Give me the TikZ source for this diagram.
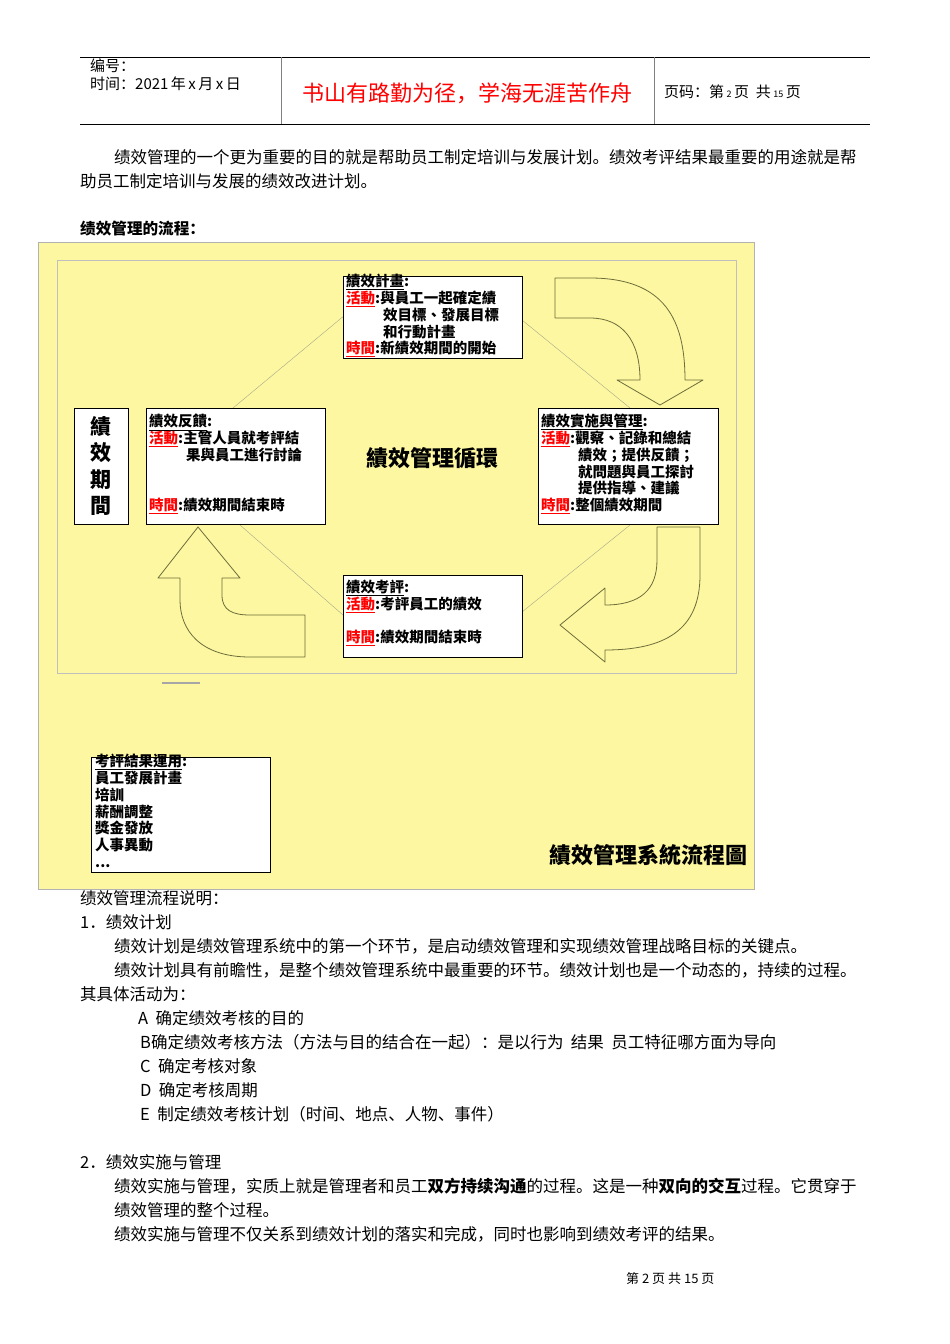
\documentclass[tikz,border=0pt]{standalone}
\usepackage{fontspec}
\setmainfont{Liberation Serif}
\newfontfamily\scfont{Noto Sans CJK SC}
\newfontfamily\tcfont{Noto Sans CJK TC}
\newcommand{\rd}[1]{\textcolor{red}{\underline{#1}}}
\newcommand{\ind}{\hspace*{2.55em}}
\definecolor{ylw}{RGB}{252,247,160}
\definecolor{arr}{RGB}{110,110,60}
\begin{document}
\begin{tikzpicture}[x=1pt,y=-1pt,
  box/.style={draw=black,fill=white,line width=0.8pt},
  bt/.style={font=\tcfont\bfseries\fontsize{14.5}{16.8}\selectfont,align=left,anchor=north west,inner sep=0pt},
  body/.style={font=\scfont\fontsize{16.5}{18}\selectfont,anchor=west,inner sep=0pt},
  blk/.style={draw=arr,fill=ylw,line width=0.8pt,line join=round}]
\useasboundingbox (0,0) rectangle (950,1344);
\fill[white] (0,0) rectangle (950,1344);
% header
\draw[line width=0.8pt] (80,57) -- (870,57) (80,124) -- (870,124);
\draw[gray] (281,57) -- (281,124) (654,57) -- (654,124);
\node[body,font=\scfont\fontsize{15}{16}\selectfont,anchor=north west] (h1) at (90,59) {编号：};
\node[body,font=\scfont\fontsize{15}{16}\selectfont,anchor=north west] (h2) at (90,77) {时间：2021\,年\,x\,月\,x\,日};
\node[body,font=\scfont\fontsize{22}{24}\selectfont,text=red] (h3) at (302,93) {书山有路勤为径，学海无涯苦作舟};
\node[body,font=\scfont\fontsize{15}{16}\selectfont] (h4) at (664,92) {页码：第\,{\small 2}\,页\ \ 共\,{\small 15}\,页};
% intro
\node[body] (p1) at (114,157) {绩效管理的一个更为重要的目的就是帮助员工制定培训与发展计划。绩效考评结果最重要的用途就是帮};
\node[body] (p2) at (80,181) {助员工制定培训与发展的绩效改进计划。};
\node[body,font=\scfont\bfseries\fontsize{15.6}{18}\selectfont] (p3) at (80,229) {绩效管理的流程：};
% diagram
\fill[ylw] (38,242) rectangle (754,889);
\draw[gray!60,line width=0.4pt] (38,242) rectangle (754,889);
\draw[draw=black!25,line width=0.8pt] (57,260) rectangle (736,673);
\draw[black!35,line width=1.5pt] (162,683) -- (200,683);
\draw[arr!60,line width=0.4pt] (345,315) -- (233,408) (522,320) -- (630,408) (630,525) -- (522,612) (343,615) -- (240,525);
% block arrows
\draw[blk] (555,278) -- (590,278) .. controls (665,278) and (685,320) .. (685,380) -- (703,380) -- (660,405) -- (617,380) -- (640,380) .. controls (640,340) and (622,318) .. (590,318) -- (555,318) -- cycle;
\draw[blk] (657,527) -- (700,527) -- (700,575) .. controls (700,630) and (665,650) .. (605,650) -- (605,662) -- (560,625) -- (605,588) -- (605,605) .. controls (640,605) and (657,590) .. (657,560) -- cycle;
\draw[blk] (305,657) -- (250,657) .. controls (200,657) and (180,630) .. (180,600) -- (180,578) -- (158,578) -- (198,527) -- (240,578) -- (222,578) -- (222,595) .. controls (222,610) and (232,615) .. (250,615) -- (305,615) -- cycle;
% boxes
\draw[box] (343,276) rectangle (522,358);
\node[bt] (b1) at (346,274) {\underline{績效計畫}:\\\rd{活動}:與員工一起確定績\\\ind 效目標、發展目標\\\ind 和行動計畫\\\rd{時間}:新績效期間的開始};
\draw[box] (146,408) rectangle (325,524);
\node[bt] (b2) at (149,414) {\underline{績效反饋}:\\\rd{活動}:主管人員就考評結\\\ind 果與員工進行討論\\[33pt]\rd{時間}:績效期間結束時};
\draw[box] (538,408) rectangle (718,524);
\node[bt] (b3) at (541,414) {\underline{績效實施與管理}:\\\rd{活動}:觀察、記錄和總結\\\ind 績效；提供反饋；\\\ind 就問題與員工探討\\\ind 提供指導、建議\\\rd{時間}:整個績效期間};
\draw[box] (343,575) rectangle (522,657);
\node[bt] (b4) at (346,580) {\underline{績效考評}:\\\rd{活動}:考評員工的績效\\[16pt]\rd{時間}:績效期間結束時};
\draw[box] (74,408) rectangle (128,524);
\node[font=\tcfont\bfseries\fontsize{21}{26.5}\selectfont,align=center,inner sep=0pt] (b5) at (101,466) {績\\效\\期\\間};
\node[font=\tcfont\bfseries\fontsize{22}{24}\selectfont,inner sep=0pt] (c) at (432,458) {績效管理循環};
\draw[box] (91,757) rectangle (270,872);
\node[bt,font=\tcfont\bfseries\fontsize{14.5}{16.8}\selectfont] (b6) at (95,754) {\underline{考評結果運用}:\\員工發展計畫\\培訓\\薪酬調整\\獎金發放\\人事異動\\...};
\node[font=\tcfont\bfseries\fontsize{22}{24}\selectfont,inner sep=0pt] (t) at (648,855) {績效管理系統流程圖};
% body after
\node[body] (q1) at (80,898) {绩效管理流程说明：};
\node[body] (q2) at (80,922) {1．绩效计划};
\node[body] (q3) at (114,946) {绩效计划是绩效管理系统中的第一个环节，是启动绩效管理和实现绩效管理战略目标的关键点。};
\node[body] (q4) at (114,970) {绩效计划具有前瞻性，是整个绩效管理系统中最重要的环节。绩效计划也是一个动态的，持续的过程。};
\node[body] (q5) at (80,994) {其具体活动为：};
\node[body] (q6) at (138,1018) {A\ \ 确定绩效考核的目的};
\node[body] (q7) at (140,1042) {B确定绩效考核方法（方法与目的结合在一起）：是以行为\ \ 结果\ \ 员工特征哪方面为导向};
\node[body] (q8) at (140,1066) {C\ \ 确定考核对象};
\node[body] (q9) at (140,1090) {D\ \ 确定考核周期};
\node[body] (q10) at (140,1114) {E\ \ 制定绩效考核计划（时间、地点、人物、事件）};
\node[body] (q11) at (80,1162) {2．绩效实施与管理};
\node[body] (q12) at (114,1186) {绩效实施与管理，实质上就是管理者和员工\textbf{双方持续沟通}的过程。这是一种\textbf{双向的交互}过程。它贯穿于};
\node[body] (q13) at (114,1210) {绩效管理的整个过程。};
\node[body] (q14) at (114,1234) {绩效实施与管理不仅关系到绩效计划的落实和完成，同时也影响到绩效考评的结果。};
\node[body,font=\scfont\fontsize{13}{14}\selectfont] (f) at (626,1279) {第\ 2\ 页\ 共\ 15\ 页};
\end{tikzpicture}
\end{document}
